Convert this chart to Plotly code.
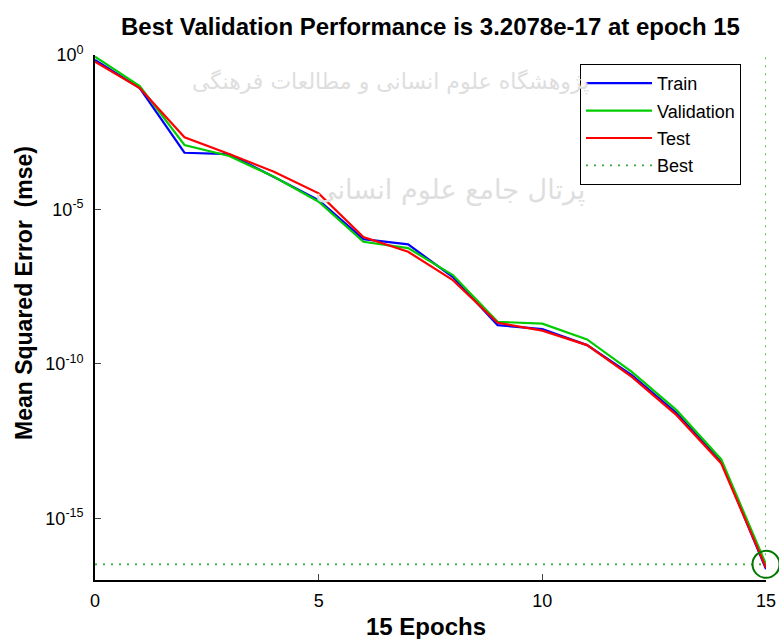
import plotly.graph_objects as go

epochs = list(range(16))
train_mse = [0.689, 0.0853, 6.84e-4, 6.21e-4, 1.12e-4, 2.01e-5, 1.09e-6, 7.38e-7,
             6.44e-8, 1.79e-9, 1.33e-9, 4.04e-10, 4.31e-11, 2.53e-12, 6.79e-14, 2.24e-17]
val_mse = [0.881, 0.0991, 1.22e-3, 5.35e-4, 1.14e-4, 1.77e-5, 8.95e-7, 5.60e-7,
           7.46e-8, 2.29e-9, 2.00e-9, 6.17e-10, 5.51e-11, 3.16e-12, 8.0e-14, 3.2078e-17]
test_mse = [0.607, 0.0853, 2.16e-3, 6.21e-4, 1.66e-4, 3.31e-5, 1.27e-6, 4.25e-7,
            5.14e-8, 2.13e-9, 1.19e-9, 4.04e-10, 3.79e-11, 2.18e-12, 5.93e-14, 2.5e-17]
best_epoch = 15
best_value = 3.2078e-17
y_tick_vals = [1, 1e-5, 1e-10, 1e-15]
y_tick_text = ["10<sup>0</sup>", "10<sup>-5</sup>", "10<sup>-10</sup>", "10<sup>-15</sup>"]
x_tick_vals = [0, 5, 10, 15]
title_text = "Best Validation Performance is 3.2078e-17 at epoch 15"
x_label = "15 Epochs"
y_label = "Mean Squared Error  (mse)"
watermark_lines = ["پژوهشگاه علوم انسانی و مطالعات فرهنگی", "پرتال جامع علوم انسانی"]

FONT = "Liberation Sans, Arial, sans-serif"
L, R, T, B = 95, 13, 55, 59
W, H = 779, 639
PW, PH = W - L - R, H - T - B


def px_x(px):
    return (px - L) / PW


def px_y(py):
    return 1 - (py - T) / PH


fig = go.Figure()

# faint watermark behind the data
fig.add_annotation(text=watermark_lines[0], xref="paper", yref="paper", x=px_x(390), y=px_y(82),
                   xanchor="center", yanchor="middle",
                   showarrow=False, font=dict(family="DejaVu Sans", size=22, color="#dedede"))
fig.add_annotation(text=watermark_lines[1], xref="paper", yref="paper", x=px_x(450), y=px_y(190),
                   xanchor="center", yanchor="middle",
                   showarrow=False, font=dict(family="DejaVu Sans", size=27, color="#dedede"))

fig.add_trace(go.Scatter(x=epochs, y=train_mse, mode="lines", name="Train", legendgroup="a",
                         line=dict(color="#0000ff", width=2.2)))
fig.add_trace(go.Scatter(x=epochs, y=val_mse, mode="lines", name="Validation", legendgroup="b",
                         line=dict(color="#00cc00", width=2.2)))
fig.add_trace(go.Scatter(x=epochs, y=test_mse, mode="lines", name="Test", legendgroup="c",
                         line=dict(color="#ff0000", width=2.2)))
fig.add_trace(go.Scatter(x=[0, best_epoch, best_epoch], y=[best_value, best_value, 1],
                         mode="lines", name="Best", legendgroup="d",
                         line=dict(color="#33aa33", width=1.6, dash="2px,6px")))
fig.add_trace(go.Scatter(x=[best_epoch], y=[best_value], mode="markers", showlegend=False,
                         cliponaxis=False,
                         marker=dict(symbol="circle-open", size=27,
                                     line=dict(color="#007700", width=2), color="#007700")))

# axis titles
fig.add_annotation(text="<b>" + x_label + "</b>", xref="paper", yref="paper",
                   x=px_x(426), y=px_y(626), xanchor="center", yanchor="middle",
                   showarrow=False, font=dict(family=FONT, size=24, color="black"))
fig.add_annotation(text="<b>" + y_label + "</b>", xref="paper", yref="paper",
                   x=px_x(24), y=px_y(293), xanchor="center", yanchor="middle",
                   showarrow=False, textangle=-90,
                   font=dict(family=FONT, size=23, color="black"))

fig.update_layout(
    width=W, height=H,
    margin=dict(l=L, r=R, t=T, b=B),
    plot_bgcolor="white", paper_bgcolor="white",
    font=dict(family=FONT, size=18, color="black"),
    title=dict(text="<b>" + title_text + "</b>", x=(L + PW / 2) / W, xanchor="center",
               y=1 - 27 / H, yanchor="middle", font=dict(family=FONT, size=24)),
    showlegend=True,
    legend=dict(x=px_x(580), y=px_y(64), xanchor="left", yanchor="top",
                bordercolor="black", borderwidth=1, bgcolor="white",
                font=dict(family=FONT, size=18), tracegroupgap=1, traceorder="grouped",
                itemwidth=66),
    xaxis=dict(range=[0, 15], tickvals=x_tick_vals, ticks="inside", ticklen=6,
               showline=True, linecolor="black", linewidth=1.6, showgrid=False,
               zeroline=False, automargin=False, ticklabelstandoff=4,
               tickfont=dict(size=18)),
    yaxis=dict(type="log", range=[-17, 0], tickvals=y_tick_vals, ticktext=y_tick_text,
               ticks="inside", ticklen=6, showline=True, linecolor="black", linewidth=1.6,
               showgrid=False, zeroline=False, automargin=False, ticklabelstandoff=6,
               tickfont=dict(size=18)),
)

fig.write_html("out.html", config={"displayModeBar": False},
               post_script="document.body.style.margin='0';document.body.style.padding='0';")
